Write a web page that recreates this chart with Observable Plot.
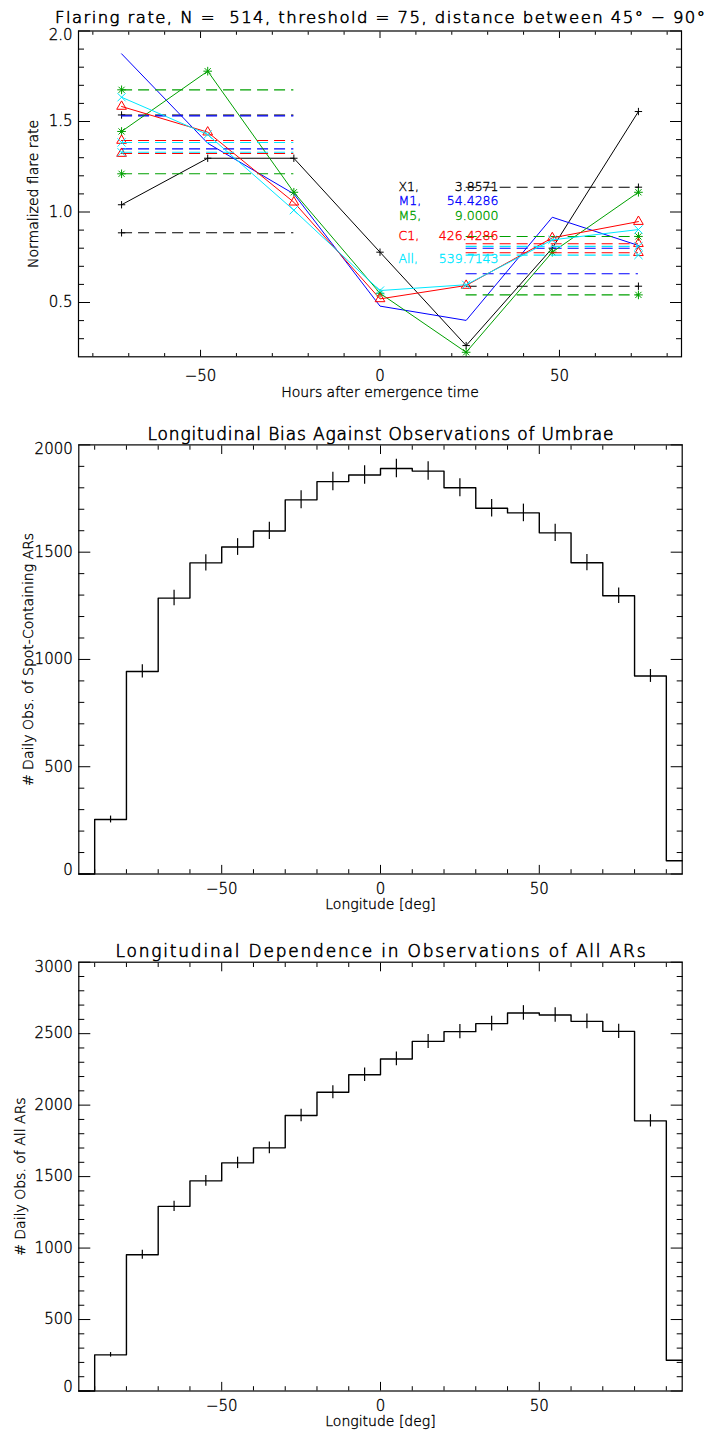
<!DOCTYPE html>
<html>
<head>
<meta charset="utf-8">
<script src="https://cdn.jsdelivr.net/npm/d3@7"></script>
<script src="https://cdn.jsdelivr.net/npm/@observablehq/plot@0.6"></script>
<style>
html, body { margin: 0; padding: 0; background: #fff; }
#wrap { position: relative; width: 707px; height: 1438px; overflow: hidden; background: #fff; }
#wrap svg { position: absolute; left: 0; }
svg text { white-space: pre; }
</style>
</head>
<body>
<div id="wrap"></div>
<script>
// ---------------- data: panel 1 (flaring rate) ----------------
const hours = [-72, -48, -24, 0, 24, 48, 72];
const flareClasses = ["X1", "M1", "M5", "C1", "All"];
const classCounts = ["3.8571", "54.4286", "9.0000", "426.4286", "539.7143"];
const rateX1  = [1.040, 1.297, 1.297, 0.778, 0.262, 0.800, 1.555];
const rateM1  = [1.874, 1.380, 1.100, 0.480, 0.401, 0.971, 0.815];
const rateM5  = [1.445, 1.778, 1.109, 0.551, 0.225, 0.778, 1.109];
const rateC1  = [1.583, 1.441, 1.054, 0.520, 0.594, 0.857, 0.947];
const rateAll = [1.634, 1.428, 1.010, 0.566, 0.598, 0.846, 0.903];
const beforeHours = [-72, -24];
const afterHours = [24, 72];
const beforeUpper = [1.536, 1.531, 1.675, 1.395, 1.384];
const beforeLower = [0.885, 1.349, 1.211, 1.323, 1.330];
const afterUpper  = [1.137, 0.800, 0.865, 0.825, 0.810];
const afterLower  = [0.590, 0.659, 0.542, 0.775, 0.762];
const hourTicks = [-50, 0, 50];
const rateTicks = [0.5, 1.0, 1.5, 2.0];

// ---------------- data: panels 2 & 3 (longitude histograms) ----------------
const lonBins = [-95, -85, -75, -65, -55, -45, -35, -25, -15, -5, 5, 15, 25, 35, 45, 55, 65, 75, 85, 95];
const spotCounts = [0, 254, 944, 1286, 1450, 1524, 1599, 1744, 1829, 1860, 1890, 1878, 1800, 1705, 1683, 1590, 1451, 1297, 923, 62];
const spotErr    = [0, 16, 31, 36, 38, 39, 40, 42, 43, 43, 43, 43, 42, 41, 41, 40, 38, 36, 30, 0];
const allCounts  = [0, 253, 953, 1292, 1470, 1596, 1701, 1927, 2090, 2213, 2323, 2446, 2514, 2570, 2645, 2631, 2586, 2516, 1890, 215];
const allErr     = [0, 16, 31, 36, 38, 40, 41, 44, 46, 47, 48, 49, 50, 51, 51, 51, 51, 50, 43, 0];
const lonTicks = [-50, 0, 50];
const spotTicks = [0, 500, 1000, 1500, 2000];
const allTicks = [0, 500, 1000, 1500, 2000, 2500, 3000];

// ---------------- styles ----------------
const FONT = "'DejaVu Sans', 'Liberation Sans', sans-serif";
const rates = [rateX1, rateM1, rateM5, rateC1, rateAll];
const colorOf = {X1: "#000000", M1: "#0000ff", M5: "#00a000", C1: "#ff0000", All: "#00e8ff"};
const symbolsOf = {X1: [["plus", 2.5]], M1: [], M5: [["plus", 2.9], ["times", 2.9]], C1: [["triangle", 3.6]], All: [["times", 3.8]]};
const DASH = "11,6";
const TS = 0.35; // faint text outline to mimic stroked vector font
const numFmt = d3.format("d");
const rateFmt = d3.format(".1f");
const baseStyle = {fontFamily: FONT, fontSize: "15px", fontWeight: 200, color: "black", background: "white", overflow: "visible"};

function frameAxes({xMajor, xMinor, yMajor, yMinor, yDomain, xLen, yLen, xFmt, yFmt, xPad}) {
  const t = {fill: "none", label: null, strokeWidth: 1};
  const lab = {tickSize: 0, label: null, fontSize: 15, textStroke: "black", textStrokeWidth: TS};
  const yTop = yMajor.filter(v => v === yDomain[1]);
  const yBot = yMajor.filter(v => v === yDomain[0]);
  const yMid = yMajor.filter(v => v !== yDomain[0] && v !== yDomain[1]);
  return [
    Plot.axisX(xMajor, {...t, anchor: "bottom", tickSize: -xLen}),
    Plot.axisX(xMajor, {...t, anchor: "top", tickSize: -xLen}),
    Plot.axisX(xMinor, {...t, anchor: "bottom", tickSize: -xLen / 2}),
    Plot.axisX(xMinor, {...t, anchor: "top", tickSize: -xLen / 2}),
    Plot.axisY(yMajor, {...t, anchor: "left", tickSize: -yLen}),
    Plot.axisY(yMajor, {...t, anchor: "right", tickSize: -yLen}),
    Plot.axisY(yMinor, {...t, anchor: "left", tickSize: -yLen / 2}),
    Plot.axisY(yMinor, {...t, anchor: "right", tickSize: -yLen / 2}),
    Plot.axisX(xMajor, {...lab, anchor: "bottom", tickPadding: xPad, tickFormat: xFmt}),
    Plot.axisY(yMid, {...lab, anchor: "left", tickPadding: 6, tickFormat: yFmt}),
    Plot.axisY(yTop, {...lab, anchor: "left", tickPadding: 6, tickFormat: yFmt, dy: 4.5}),
    Plot.axisY(yBot, {...lab, anchor: "left", tickPadding: 6, tickFormat: yFmt, dy: -3.5}),
    Plot.frame({stroke: "black", strokeWidth: 1.2})
  ];
}

const wrap = document.getElementById("wrap");
function place(svg, top) { svg.style.top = top + "px"; wrap.appendChild(svg); return svg; }
function fitTitle(svg, title, width) {
  d3.select(svg).selectAll("text")
    .filter(function () { return this.textContent === title; })
    .attr("textLength", width).attr("lengthAdjust", "spacing");
}
const txt = (s, o) => Plot.text([s], {fill: "black", stroke: "black", strokeWidth: TS, ...o});

// ---------------- panel 1 ----------------
const classMarks = [];
flareClasses.forEach((c, i) => {
  const col = colorOf[c];
  const bands = [
    {v: beforeUpper[i], x1: beforeHours[0], x2: beforeHours[1], xm: beforeHours[0]},
    {v: beforeLower[i], x1: beforeHours[0], x2: beforeHours[1], xm: beforeHours[0]},
    {v: afterUpper[i], x1: afterHours[0], x2: afterHours[1], xm: afterHours[1]},
    {v: afterLower[i], x1: afterHours[0], x2: afterHours[1], xm: afterHours[1]}
  ];
  classMarks.push(Plot.ruleY(bands, {y: "v", x1: "x1", x2: "x2", stroke: col, strokeWidth: 1.1, strokeDasharray: DASH}));
  classMarks.push(Plot.line(hours, {x: hours, y: rates[i], stroke: col, strokeWidth: 1}));
  for (const [sym, r] of symbolsOf[c]) {
    classMarks.push(Plot.dot(bands, {x: "xm", y: "v", symbol: sym, r, stroke: col, strokeWidth: 1}));
    classMarks.push(Plot.dot(hours, {x: hours, y: rates[i], symbol: sym, r, stroke: col, strokeWidth: 1}));
  }
});

const legendDy = [151.5, 165, 180.5, 200.5, 223];
const legendMarks = [];
flareClasses.forEach((c, i) => {
  const o = {frameAnchor: "top-left", dy: legendDy[i], fill: colorOf[c], stroke: colorOf[c], fontSize: 12.5};
  legendMarks.push(txt(c + ",", {...o, dx: 320, textAnchor: "start"}));
  legendMarks.push(txt(classCounts[i], {...o, dx: 420, textAnchor: "end"}));
});

const title1 = "Flaring rate, N =  514, threshold = 75, distance between 45° − 90°";
const p1 = Plot.plot({
  width: 707, height: 410,
  marginLeft: 78, marginRight: 26, marginTop: 30.5, marginBottom: 53.7,
  style: baseStyle,
  x: {domain: [-84, 84]},
  y: {domain: [0.2, 2.0]},
  marks: [
    ...classMarks,
    ...legendMarks,
    ...frameAxes({xMajor: hourTicks, xMinor: d3.range(-80, 81, 10).filter(v => v % 50 !== 0),
      yMajor: rateTicks, yMinor: d3.range(3, 20).map(v => v / 10).filter(v => Math.round(v * 10) % 5 !== 0),
      yDomain: [0.2, 2.0], xLen: 6.5, yLen: 12, xFmt: numFmt, yFmt: rateFmt, xPad: 14}),
    txt(title1, {frameAnchor: "top", dy: -20, fontSize: 16.5, strokeWidth: 0.6}),
    txt("Normalized flare rate", {frameAnchor: "left", dx: -45, rotate: -90, textAnchor: "middle", fontSize: 14}),
    txt("Hours after emergence time", {frameAnchor: "bottom", dy: 40.5, fontSize: 14})
  ]
});
place(p1, 0);
fitTitle(p1, title1, 650);

// ---------------- panels 2 & 3 ----------------
function histPanel({counts, errs, yTicks, yMax, title, ylabel, height, mt, mb, ylabelDx}) {
  const idx = d3.range(1, lonBins.length - 1);
  return Plot.plot({
    width: 707, height,
    marginLeft: 78.3, marginRight: 25.3, marginTop: mt, marginBottom: mb,
    style: baseStyle,
    x: {domain: [-95, 95]},
    y: {domain: [0, yMax]},
    marks: [
      Plot.line(lonBins, {x: lonBins, y: counts, curve: "step", stroke: "black", strokeWidth: 1.4}),
      Plot.ruleX(idx, {x: i => lonBins[i], y1: i => counts[i] - errs[i], y2: i => counts[i] + errs[i], stroke: "black", strokeWidth: 1.2}),
      ...frameAxes({xMajor: lonTicks, xMinor: d3.range(-90, 91, 10).filter(v => v % 50 !== 0),
        yMajor: yTicks, yMinor: d3.range(100, yMax, 100).filter(v => v % 500 !== 0),
        yDomain: [0, yMax], xLen: 8.6, yLen: 12, xFmt: numFmt, yFmt: numFmt, xPad: 9}),
      txt(title, {frameAnchor: "top", dy: -17, fontSize: 17, strokeWidth: 0.6}),
      txt(ylabel, {frameAnchor: "left", dx: ylabelDx, rotate: -90, textAnchor: "middle", fontSize: 14}),
      txt("Longitude [deg]", {frameAnchor: "bottom", dy: 34.5, fontSize: 14})
    ]
  });
}

const title2 = "Longitudinal Bias Against Observations of Umbrae";
const p2 = histPanel({counts: spotCounts, errs: spotErr, yTicks: spotTicks, yMax: 2000,
  title: title2, ylabel: "# Daily Obs. of Spot-Containing ARs",
  height: 517, mt: 34.4, mb: 53.5, ylabelDx: -50});
place(p2, 410);
fitTitle(p2, title2, 466);

const title3 = "Longitudinal Dependence in Observations of All ARs";
const p3 = histPanel({counts: allCounts, errs: allErr, yTicks: allTicks, yMax: 3000,
  title: title3, ylabel: "# Daily Obs. of All ARs",
  height: 511, mt: 34.7, mb: 47.5, ylabelDx: -58});
place(p3, 927);
fitTitle(p3, title3, 530);
</script>
</body>
</html>
